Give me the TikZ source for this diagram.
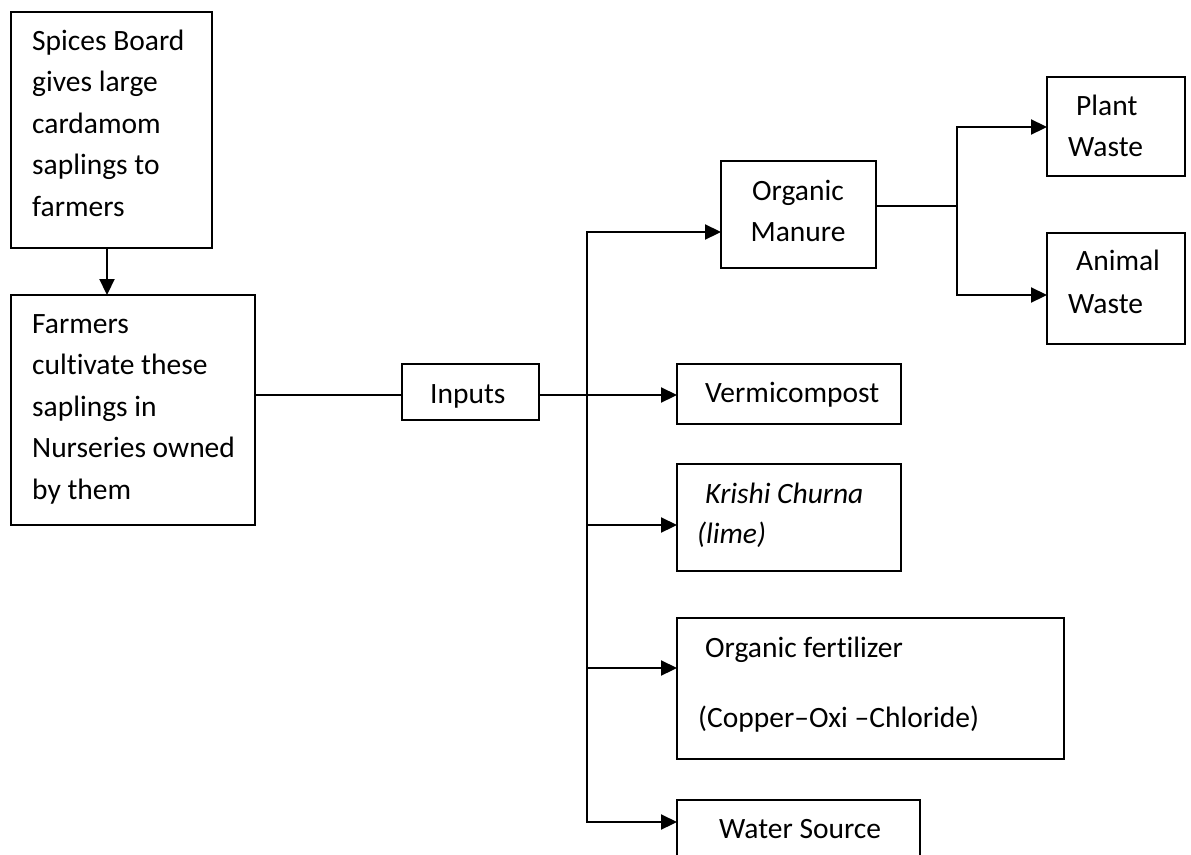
\documentclass[tikz,border=0pt]{standalone}
\usepackage{fontspec}
\setmainfont{Carlito}[Ligatures={NoCommon}]
\usetikzlibrary{arrows.meta}
\newcommand\TopRule{\rule{0pt}{30pt}}
\begin{document}
\begin{tikzpicture}[x=1pt,y=-1pt,
  box/.style={draw, line width=1.6pt, inner sep=0pt, outer sep=0pt, anchor=north west},
  txt/.style={anchor=north west, inner sep=0pt, align=left, font=\fontsize{29.5}{41.5}\selectfont},
  conn/.style={line width=2.2pt},
  thinline/.style={line width=1.4pt},
  arr/.style={line width=2.2pt, line join=miter, -{Triangle[length=16pt,width=15pt]}},
]
\clip (0,0) rectangle (1191,854);
\fill[white] (0,0) rectangle (1191,854);
% boxes
\node[box, minimum width=201pt, minimum height=236pt] (b1) at (11,12) {};
\node[box, minimum width=244pt, minimum height=230pt] (b2) at (11,295) {};
\node[box, minimum width=137pt, minimum height=56pt] (inp) at (402,364) {};
\node[box, minimum width=155pt, minimum height=107pt] (man) at (721,161) {};
\node[box, minimum width=138pt, minimum height=99pt] (plant) at (1047,77) {};
\node[box, minimum width=138pt, minimum height=111pt] (animal) at (1047,233) {};
\node[box, minimum width=224pt, minimum height=60pt] (verm) at (677,364) {};
\node[box, minimum width=224pt, minimum height=107pt] (kri) at (677,464) {};
\node[box, minimum width=387pt, minimum height=141pt] (fert) at (677,618) {};
\node[box, minimum width=243pt, minimum height=80pt] (water) at (677,800) {};
% texts
\node[txt] (b1t) at (32,20) {\TopRule Spices Board\\gives large\\cardamom\\saplings to\\farmers};
\node[txt] (b2t) at (32,303) {\TopRule Farmers\\cultivate these\\saplings in\\Nurseries owned\\by them};
\node[txt] (inpt) at (430,373) {\TopRule Inputs};
\node[txt, anchor=north, align=center] (mant) at (798,170) {\TopRule Organic\\Manure};
\node[txt] (plantt) at (1068,85) {\TopRule\hspace*{8pt}Plant\\Waste};
\node[txt] (animalt) at (1068,240) {\TopRule\hspace*{8pt}Animal\\[1.5pt]Waste};
\node[txt] (vermt) at (705,372) {\TopRule Vermicompost};
\node[txt, font=\fontsize{29.5}{40}\selectfont\itshape] (krit) at (697,473) {\TopRule\hspace*{8pt}Krishi Churna\\(lime)};
\node[txt] (fertt) at (698,627) {\TopRule\hspace*{7pt}Organic fertilizer\\[28.5pt](Copper–Oxi –Chloride)};
\node[txt] (watert) at (719,808) {\TopRule Water Source};
% connectors
\draw[arr] ([xshift=-4.5pt]b1.south) -- ([xshift=-4.5pt]b1.south |- b2.north);
\coordinate (iy) at (0,395);
\coordinate (tv) at (587,395);
\draw[thinline] (b2.east |- iy) -- (inp.west |- iy);
\draw[thinline] (inp.east |- iy) -- (tv);
\draw[arr] (tv) -- (verm.west |- iy);
\coordinate (tt) at (587,232);
\coordinate (tk) at (587,525);
\coordinate (tf) at (587,668);
\coordinate (tb) at (587,822);
\draw[arr] (tb) -- (tt) -- (tt -| man.west);
\draw[arr] (tt) -- (tb) -- (tb -| water.west);
\draw[arr] (tk) -- (tk -| kri.west);
\draw[arr] (tf) -- (tf -| fert.west);
\coordinate (sp) at (957,206);
\coordinate (spt) at (957,127);
\coordinate (spb) at (957,295);
\draw[thinline] (man.east |- sp) -- (sp);
\draw[arr] (spb) -- (spt) -- (spt -| plant.west);
\draw[arr] (spt) -- (spb) -- (spb -| animal.west);
\end{tikzpicture}
\end{document}
